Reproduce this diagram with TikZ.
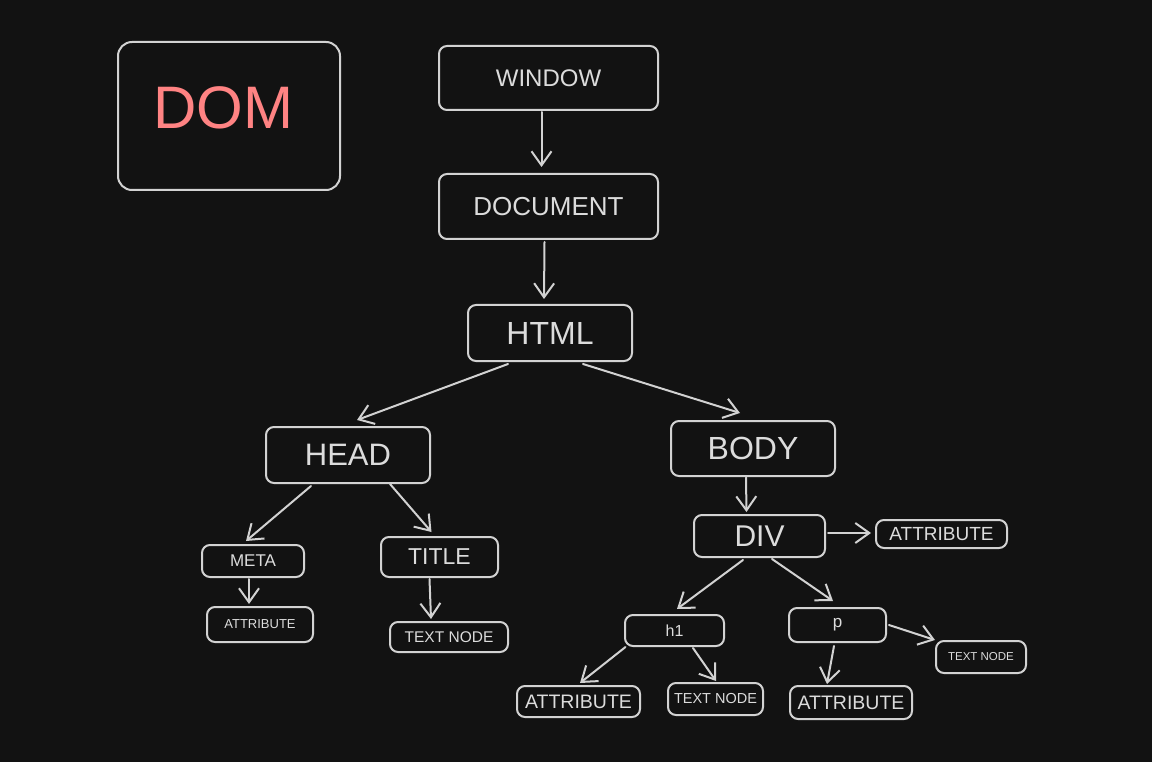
\documentclass[tikz,border=0pt]{standalone}
\usepackage{fontspec}
\setmainfont{Liberation Sans}
\usetikzlibrary{arrows.meta,calc}
\definecolor{bg}{HTML}{121212}
\definecolor{stroke}{HTML}{D2D2D2}
\definecolor{txt}{HTML}{DCDCDC}
\definecolor{domred}{HTML}{FF8383}
\tikzset{
  box/.style={draw=stroke, line width=2pt, rounded corners=8pt, fill=bg, text=txt, inner sep=0pt, align=center},
  arr/.style={draw=stroke, line width=2pt, line cap=round, -{Straight Barb[length=14pt,width=20pt,line width=2pt]}},
  fs/.style={font=\fontsize{#1}{#1}\selectfont}
}
\begin{document}
\begin{tikzpicture}[x=1pt,y=-1pt]
\fill[bg] (0,0) rectangle (1152,762);
\useasboundingbox (0,0) rectangle (1152,762);

% DOM title box
\node[box, minimum width=222pt, minimum height=148pt, rounded corners=14pt] (dom) at (229,116) {};
\node[text=domred, fs=60, inner sep=0pt] (domtext) at (223,108) {DOM};
% main chain
\node[box, minimum width=219pt, minimum height=64pt, fs=24] (window) at (548.5,78) {WINDOW};
\node[box, minimum width=219pt, minimum height=65pt, fs=26] (document) at (548.5,206.5) {DOCUMENT};
\node[box, minimum width=164pt, minimum height=56pt, fs=32] (html) at (550,333) {HTML};
\node[box, minimum width=164pt, minimum height=56pt, fs=31] (head) at (348,455) {HEAD};
\node[box, minimum width=164pt, minimum height=55pt, fs=32] (body) at (753,448.5) {BODY};
\node[box, minimum width=131pt, minimum height=42pt, fs=30] (div) at (759.5,536) {DIV};
\node[box, minimum width=131pt, minimum height=28pt, fs=19] (attrD) at (941.5,534) {ATTRIBUTE};
% head subtree
\node[box, minimum width=102pt, minimum height=32pt, fs=17] (meta) at (253,561) {META};
\node[box, minimum width=117pt, minimum height=40pt, fs=23] (title) at (439.5,557) {TITLE};
\node[box, minimum width=106pt, minimum height=35pt, fs=13] (attrM) at (260,624.5) {ATTRIBUTE};
\node[box, minimum width=118pt, minimum height=30pt, fs=15.5] (textT) at (449,637) {TEXT NODE};
% div subtree
\node[box, minimum width=99pt, minimum height=31pt, fs=16] (h1) at (674.5,630.5) {h1};
\node[box, minimum width=97pt, minimum height=34pt, fs=17] (p) at (837.5,625) {p};
\node[box, minimum width=123pt, minimum height=31pt, fs=19.5] (attrH) at (578.5,701.5) {ATTRIBUTE};
\node[box, minimum width=95pt, minimum height=32pt, fs=14.5] (textH) at (715.5,699) {TEXT NODE};
\node[box, minimum width=122pt, minimum height=33pt, fs=19.5] (attrP) at (851,702.5) {ATTRIBUTE};
\node[box, minimum width=90pt, minimum height=32pt, fs=11.5] (textP) at (981,657) {TEXT NODE};

% connectors
\draw[arr] ($(window.south)+(-7,1)$) -- ($(document.north)+(-7,-6)$);
\draw[arr] ($(document.south)+(-4,2)$) -- ($(html.north)+(-6,-5)$);
\draw[arr] ($(html.south)+(-42,2)$) -- ($(head.north)+(9,-6)$);
\draw[arr] ($(html.south)+(33,2)$) -- ($(body.north)+(-13,-7)$);
\draw[arr] ($(head.south)+(-37,2)$) -- ($(meta.north)+(-7,-3)$);
\draw[arr] ($(head.south)+(42,0)$) -- ($(title.north)+(-8,-4)$);
\draw[arr] ($(meta.south)+(-4,1)$) -- ($(attrM.north)+(-11,-2)$);
\draw[arr] ($(title.south)+(-10,1)$) -- ($(textT.north)+(-18,-2)$);
\draw[arr] ($(body.south)+(-7,0.5)$) -- ($(div.north)+(-13,-2)$);
\draw[arr] ($(div.east)+(2,-3)$) -- ($(attrD.west)+(-4,-1)$);
\draw[arr] ($(div.south)+(-16.5,2)$) -- ($(h1.north)+(2.5,-5)$);
\draw[arr] ($(div.south)+(12.5,1)$) -- ($(p.north)+(-4.5,-6)$);
\draw[arr] ($(h1.south)+(-49,0)$) -- ($(attrH.north)+(1.5,-2)$);
\draw[arr] ($(h1.south)+(18.5,1)$) -- ($(textH.north)+(0.5,-1)$);
\draw[arr] ($(p.south)+(-3.5,3)$) -- ($(attrP.north)+(-24,-1)$);
\draw[arr] ($(p.east)+(2,0)$) -- ($(textP.north west)+(0,0)$);
\end{tikzpicture}
\end{document}
